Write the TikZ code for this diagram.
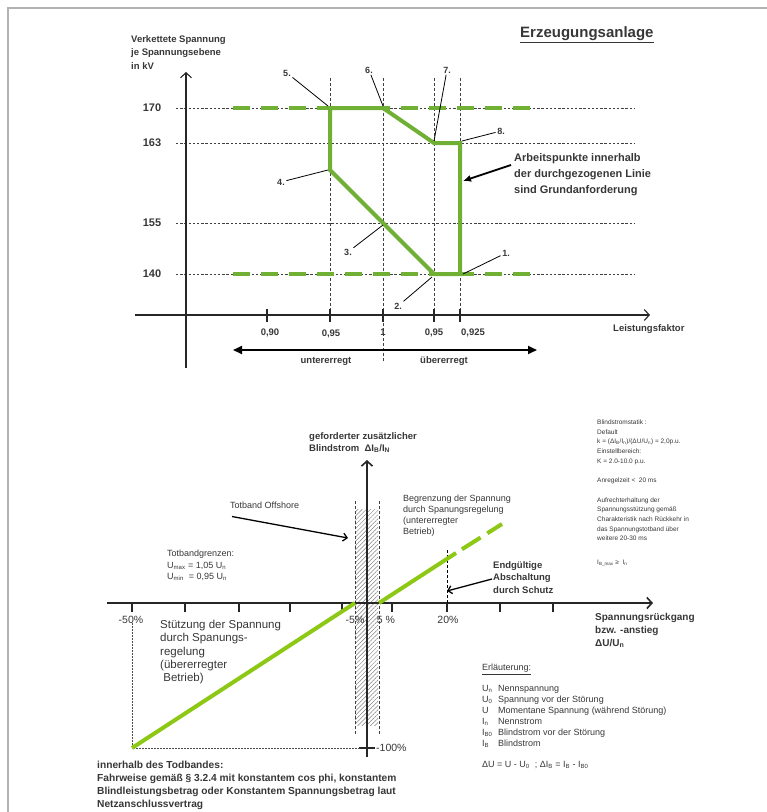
\documentclass[tikz,border=0pt]{standalone}
\usepackage{fontspec}
\setmainfont{Liberation Sans}
\usetikzlibrary{arrows.meta,patterns.meta}
\definecolor{topgreen}{RGB}{112,176,52}
\definecolor{limegreen}{RGB}{140,200,20}
\definecolor{inkgray}{RGB}{55,55,55}

\begin{document}
\begin{tikzpicture}[
      x=1pt, y=-1pt,
      txt/.style={inner sep=0pt, anchor=north west, align=left, text=inkgray},
      boldlbl/.style={txt, font=\fontsize{9.5}{13.5}\selectfont\bfseries},
      rowlbl/.style={inner sep=0pt, font=\fontsize{11}{12}\selectfont\bfseries, text=inkgray},
      ticklbl/.style={inner sep=0pt, font=\fontsize{9.5}{12}\selectfont\bfseries, text=inkgray},
      numlbl/.style={inner sep=1.5pt, font=\fontsize{9}{11}\selectfont\bfseries, text=inkgray},
      pctlbl/.style={inner sep=0pt, font=\fontsize{10.5}{12}\selectfont, text=inkgray},
      smalltxt/.style={txt, font=\fontsize{9}{11}\selectfont},
      tinytxt/.style={txt, font=\fontsize{6.5}{9.7}\selectfont},
      gridline/.style={black!75, line width=0.6pt, dash pattern=on 2.4pt off 1.8pt},
      guide/.style={black!75, line width=0.6pt, dash pattern=on 3pt off 2pt},
      dotline/.style={black!70, line width=0.6pt, dash pattern=on 1.5pt off 1.5pt},
      axis/.style={black!85, line width=1.1pt, -{Straight Barb[length=5pt,width=11pt]}},
      region/.style={draw=topgreen, line width=4pt, line join=miter},
      limit/.style={draw=topgreen, line width=4pt, dash pattern=on 17pt off 11pt},
      lime/.style={draw=limegreen, line width=4pt},
      leader/.style={black, line width=0.8pt},
      pointer/.style={black, line width=1.3pt, -{Straight Barb[length=4pt,width=8pt]}}
    ]
    \useasboundingbox (0,0) rectangle (767,812);
    \draw[gray!60, line width=2.5pt] (8,812) -- (8,8) -- (767,8);

    \node[boldlbl] (ylab) at (131,35) {Verkettete Spannung\\je Spannungsebene\\in kV};
    \node[anchor=west, inner sep=0pt, font=\fontsize{15}{18}\selectfont\bfseries, text=inkgray] (title) at (520,35) {\underline{Erzeugungsanlage}};

    \foreach \v/\y in {170/108,163/143,155/223,140/274} {
      \node[rowlbl] (v\v) at (152,\y) {\v};
      \draw[gridline] (176,\y) -- (635,\y);
    }
    \foreach \x in {330,434,460}
      \draw[guide] (\x,78) -- (\x,315);
    \draw[guide] (383,78) -- (383,362);

    \coordinate (yb) at (186,368);
    \coordinate (yt) at (186,72);
    \coordinate (xl) at (135,315);
    \coordinate (xr) at (650,315);
    \draw[axis] (yb) -- (yt);
    \draw[axis] (xl) -- (xr);
    \foreach \x in {267,330,383,434,460}
      \draw[black!85, line width=1.8pt] (\x,309) -- (\x,322);
    \node[ticklbl] (t090) at (270,333) {0,90};
    \node[ticklbl] (t095a) at (331,334) {0,95};
    \node[ticklbl] (t1) at (383,332) {1};
    \node[ticklbl] (t095b) at (434,333) {0,95};
    \node[ticklbl] (t0925) at (473,333) {0,925};
    \node[anchor=west, inner sep=0pt, font=\fontsize{9.5}{12}\selectfont\bfseries, text=inkgray] (pf) at (613,329) {Leistungsfaktor};

    \draw[limit] (233,108) -- (539,108);
    \draw[limit] (233,274) -- (539,274);

    \coordinate (p1) at (460,274);
    \coordinate (p2) at (434,274);
    \coordinate (p3) at (383,223);
    \coordinate (p4) at (330,170);
    \coordinate (p5) at (330,108);
    \coordinate (p6) at (383,108);
    \coordinate (p7) at (434,143);
    \coordinate (p8) at (460,143);
    \draw[region] (p1) -- (p2) -- (p4) -- (p5) -- (p6) -- (p7) -- (p8) -- cycle;

    \node[numlbl] (n1) at (506,253) {1.};
    \node[numlbl] (n2) at (398,306) {2.};
    \node[numlbl] (n3) at (348,252) {3.};
    \node[numlbl] (n4) at (281,182) {4.};
    \node[numlbl] (n5) at (287,73) {5.};
    \node[numlbl] (n6) at (369,70) {6.};
    \node[numlbl] (n7) at (447,70) {7.};
    \node[numlbl] (n8) at (501,131) {8.};
    \draw[leader] (n1) -- ([xshift=3pt]p1);
    \draw[leader] (n2) -- ([xshift=-2pt,yshift=-3pt]p2);
    \draw[leader] (n3) -- ([yshift=-2pt]p3);
    \draw[leader] (n4) -- ([xshift=-2pt]p4);
    \draw[leader] (n5) -- ([xshift=-2pt,yshift=2pt]p5);
    \draw[leader] (n6) -- ([yshift=2pt]p6);
    \draw[leader] (n7) -- ([yshift=2pt]p7);
    \draw[leader] (n8) -- ([xshift=2pt,yshift=2pt]p8);

    \node[txt, font=\fontsize{11}{16}\selectfont\bfseries] (workpts) at (514,153) {Arbeitspunkte innerhalb\\der durchgezogenen Linie\\sind Grundanforderung};
    \coordinate (edge) at (463,181);
    \draw[black, line width=1.8pt, -{Latex[length=8pt,width=7pt]}] ([xshift=-3pt,yshift=-12pt]workpts.north west) -- (edge);

    \coordinate (exl) at (233,350);
    \coordinate (exr) at (537,350);
    \draw[black, line width=1.8pt, {Triangle[length=9pt,width=8pt]}-{Triangle[length=9pt,width=8pt]}] (exl) -- (exr);
    \node[ticklbl] (under) at (326,361) {untererregt};
    \node[ticklbl] (over) at (444,361) {übererregt};

    \fill[pattern={Lines[angle=45,distance=3pt,line width=0.5pt]}, pattern color=gray] (355,509) rectangle (378,725);
    \draw[guide] (355,501) -- (355,735);
    \draw[guide] (379,501) -- (379,735);

    \coordinate (ub) at (367,757);
    \coordinate (ut) at (367,460);
    \coordinate (dl) at (107,603);
    \coordinate (dr) at (653,603);
    \draw[axis, line width=1.6pt] (ub) -- (ut);
    \draw[axis, line width=1.6pt] (dl) -- (dr);
    \foreach \x in {132,185,239,290,342,392,447,500,553}
      \draw[black!85, line width=1.2pt] (\x,603) -- (\x,612);
    \draw[black!85, line width=1.2pt] (359,748) -- (375,748);

    \node[pctlbl] (m50) at (131,620) {-50\%};
    \node[pctlbl] (m5) at (355,620) {-5\%};
    \node[pctlbl] (p5pct) at (386,620) {5 \%};
    \node[pctlbl] (p20) at (448,620) {20\%};
    \node[pctlbl, anchor=west] (m100) at (376,748) {-100\%};

    \coordinate (g0) at (132,748);
    \coordinate (g1) at (355,603);
    \coordinate (g2) at (379,603);
    \coordinate (g3) at (456,553);
    \coordinate (g4) at (502,524);
    \draw[dotline] (132,623) -- (g0) -- (360,748);
    \draw[guide, black] (447,550) -- (447,603);
    \draw[lime] (g0) -- (g1);
    \draw[lime] (g2) -- (g3);
    \draw[lime, dash pattern=on 0pt off 7pt on 22pt off 8pt on 18pt] (g3) -- (g4);

    \node[txt, font=\fontsize{9.5}{12}\selectfont\bfseries] (dIlab) at (309,432) {geforderter zusätzlicher\\Blindstrom\ \ ΔI\textsubscript{B}/I\textsubscript{N}};
    \node[smalltxt, anchor=west] (tboff) at (230,505) {Totband Offshore};
    \coordinate (band) at (348,538);
    \draw[pointer] ([xshift=2pt,yshift=-8pt]tboff.south west) -- (band);
    \node[smalltxt] (limup) at (403,495) {Begrenzung der Spannung\\durch Spanungsregelung\\(untererregter\\Betrieb)};
    \node[smalltxt, font=\fontsize{9}{11.5}\selectfont] (tbgr) at (167,550) {Totbandgrenzen:\\U\textsubscript{max}\ =\ 1,05 U\textsubscript{n}\\U\textsubscript{min}\ \ =\ 0,95 U\textsubscript{n}};
    \node[txt, font=\fontsize{9.5}{12.5}\selectfont\bfseries] (trip) at (493,561) {Endgültige\\Abschaltung\\durch Schutz};
    \coordinate (cut) at (447,591);
    \draw[pointer] ([xshift=-1pt,yshift=-18pt]trip.north west) -- (cut);
    \node[txt, font=\fontsize{11.5}{13.3}\selectfont] (support) at (160,620) {Stützung der Spannung\\durch Spanungs-\\regelung\\(übererregter\\\ Betrieb)};
    \node[txt, font=\fontsize{10}{13}\selectfont\bfseries] (drop) at (595,613) {Spannungsrückgang\\bzw. -anstieg\\ΔU/U\textsubscript{n}};
    \node[txt, font=\fontsize{10.2}{13}\selectfont\bfseries] (deadnote) at (97,761) {innerhalb des Todbandes:\\Fahrweise gemäß § 3.2.4 mit konstantem cos phi, konstantem\\Blindleistungsbetrag oder Konstantem Spannungsbetrag laut\\Netzanschlussvertrag};
    \node[smalltxt] (legend) at (482,664) {\underline{Erläuterung:}\\[10pt]
      \makebox[16pt][l]{U\textsubscript{n}}Nennspannung\\
      \makebox[16pt][l]{U\textsubscript{0}}Spannung vor der Störung\\
      \makebox[16pt][l]{U}Momentane Spannung (während Störung)\\
      \makebox[16pt][l]{I\textsubscript{n}}Nennstrom\\
      \makebox[16pt][l]{I\textsubscript{B0}}Blindstrom vor der Störung\\
      \makebox[16pt][l]{I\textsubscript{B}}Blindstrom\\[10pt]
      ΔU\ =\ U - U\textsubscript{0}\ \ ;\ ΔI\textsubscript{B}\ =\ I\textsubscript{B} - I\textsubscript{B0}};
    \node[tinytxt] (statik) at (597,419.5) {Blindstromstatik :\\Default\\
      k = (ΔI\textsubscript{B}/I\textsubscript{n})/(ΔU/U\textsubscript{n}) = 2,0p.u.\\
      Einstellbereich:\\K = 2.0-10.0 p.u.\\[9.7pt]
      Anregelzeit\ \textless\ \ 20 ms\\[9.7pt]
      Aufrechterhaltung der\\Spannungsstützung gemäß\\Charakteristik nach Rückkehr in\\das Spannungstotband über\\weitere 20-30 ms\\[14pt]
      I\textsubscript{B\_max}\ ≥\ \ I\textsubscript{n}};
  \end{tikzpicture}
\end{document}
